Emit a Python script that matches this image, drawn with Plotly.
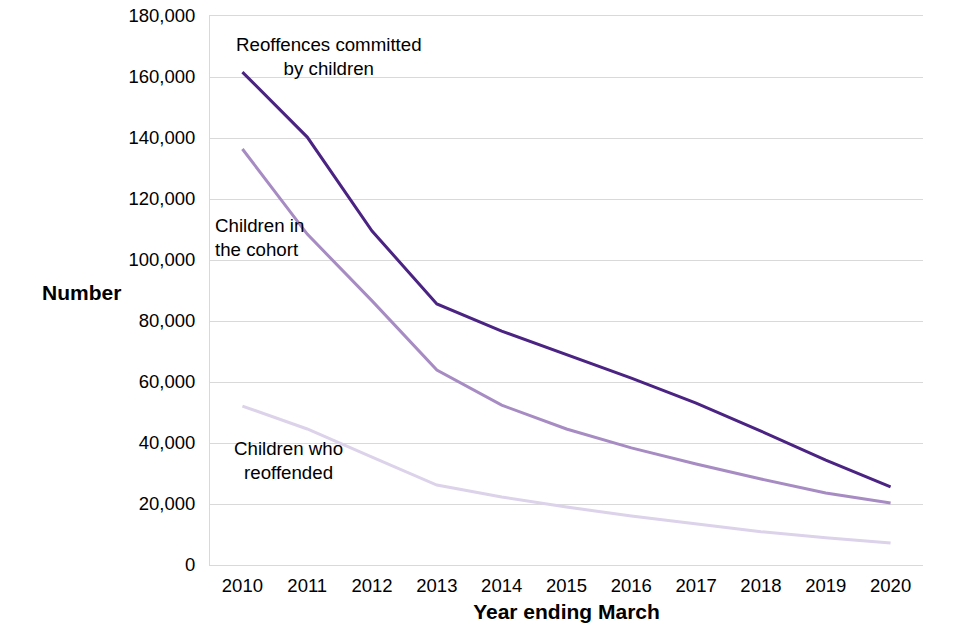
import plotly.graph_objects as go

years = ["2010", "2011", "2012", "2013", "2014", "2015", "2016", "2017", "2018", "2019", "2020"]
reoffences = [161600, 140300, 109500, 85600, 76700, 68900, 61300, 53100, 43900, 34400, 25600]
cohort = [136400, 108500, 86600, 63900, 52400, 44600, 38400, 33100, 28200, 23600, 20300]
reoffenders = [52100, 44600, 35400, 26200, 22300, 19000, 16100, 13400, 10900, 8900, 7200]

fig = go.Figure()
fig.add_trace(go.Scatter(x=years, y=reoffenders, mode="lines", line=dict(color="#DCD2EA", width=3), name="Children who reoffended"))
fig.add_trace(go.Scatter(x=years, y=cohort, mode="lines", line=dict(color="#A78CC4", width=3), name="Children in the cohort"))
fig.add_trace(go.Scatter(x=years, y=reoffences, mode="lines", line=dict(color="#4B2383", width=3), name="Reoffences committed by children"))

font = "Liberation Sans, Arial, sans-serif"
fig.update_layout(
    width=960, height=640,
    margin=dict(l=210, r=37, t=16, b=75),
    paper_bgcolor="white", plot_bgcolor="white",
    showlegend=False,
    font=dict(family=font, size=18.5, color="black"),
    xaxis=dict(type="category", range=[-0.5, 10.5], showgrid=False, showline=True, mirror=True,
               linecolor="#D9D9D9", linewidth=1,
               ticks="", automargin=False, ticklabelstandoff=4, tickfont=dict(size=18.5),
               title=dict(text="<b>Year ending March</b>", font=dict(size=21), standoff=9)),
    yaxis=dict(range=[0, 180000], dtick=20000, tickformat=",", showgrid=True, gridcolor="#D9D9D9", gridwidth=1,
               showline=True, linecolor="#D9D9D9", zeroline=False, ticks="", automargin=False,
               ticklabeloverflow="allow",
               tickfont=dict(size=18.5), ticklabelstandoff=10),
)

fig.add_annotation(text="<b>Number</b>", xref="paper", yref="paper", x=-0.18, y=0.497, xanchor="center", yanchor="middle",
                   showarrow=False, font=dict(size=21))
fig.add_annotation(text="Reoffences committed<br>by children", x=1.33, y=166600, xref="x", yref="y", showarrow=False,
                   font=dict(size=18.7), align="center")
fig.add_annotation(text="Children in<br>the cohort", x=-0.46, y=107500, xref="x", yref="y", xanchor="left", showarrow=False,
                   font=dict(size=18.7), align="left")
fig.add_annotation(text="Children who<br>reoffended", x=0.71, y=34400, xref="x", yref="y", showarrow=False,
                   font=dict(size=18.7), align="center")

fig.write_html("out.html", config={"displayModeBar": False},
               post_script="document.body.style.margin='0';document.body.style.overflow='hidden';")
